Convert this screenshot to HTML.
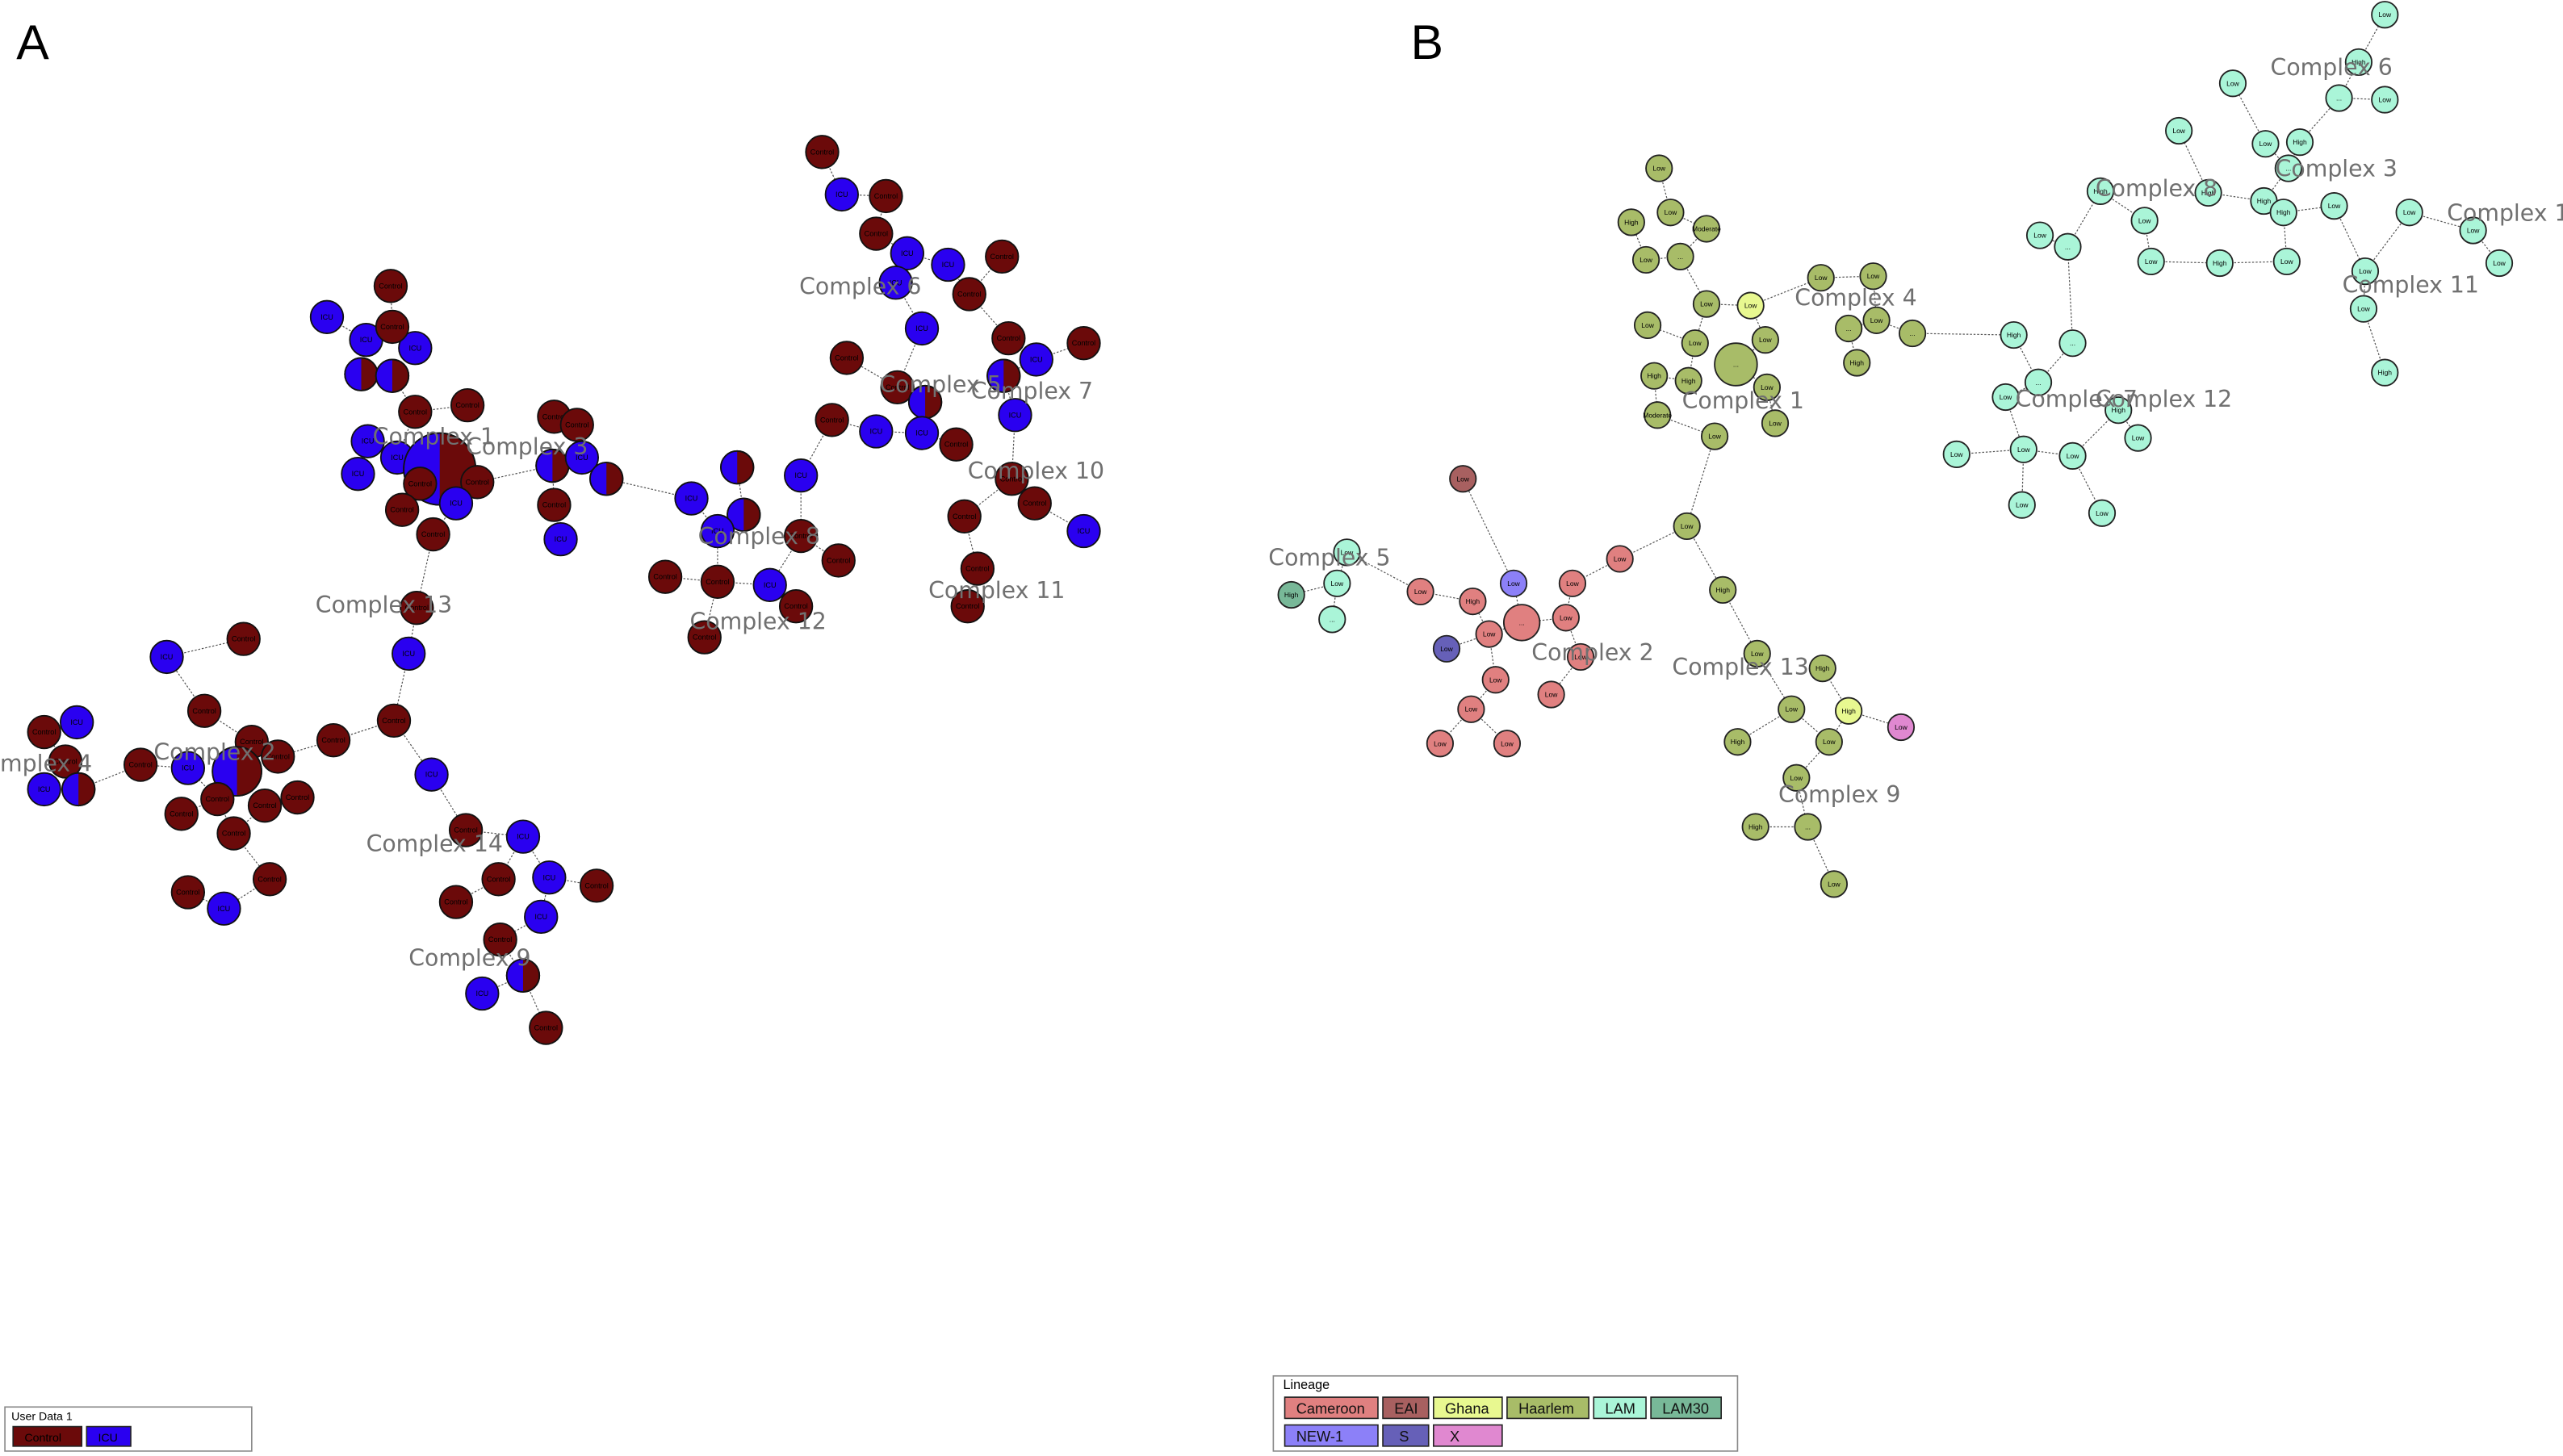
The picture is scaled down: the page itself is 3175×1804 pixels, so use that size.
<!DOCTYPE html>
<html><head><meta charset="utf-8"><style>
html,body{margin:0;padding:0;background:#fff;}
svg{display:block;font-family:"Liberation Sans","DejaVu Sans",sans-serif;}
</style></head><body>
<svg id="fig" width="3175" height="1804" viewBox="0 0 1568 891" preserveAspectRatio="none" xmlns="http://www.w3.org/2000/svg">
<rect width="1568" height="891" fill="#fff"/>
<text x="10" y="36" font-size="30">A</text>
<text x="863" y="36" font-size="30">B</text>
<g id="edges"></g><g id="nodes"></g><g id="labels"></g>
<g>
<rect x="3" y="861" width="151" height="27" fill="#fff" stroke="#888" stroke-width="0.8"/>
<text x="7" y="869" font-size="7">User Data 1</text>
<rect x="8" y="873" width="42" height="12" fill="#6b0a0a" stroke="#222" stroke-width="0.8"/>
<text x="15" y="882" font-size="7">Control</text>
<rect x="53" y="873" width="27" height="12" fill="#2a00f0" stroke="#222" stroke-width="0.8"/>
<text x="60" y="882" font-size="7">ICU</text>
</g>
<g id="legendB">
<rect x="779" y="842" width="284" height="46" fill="#fff" stroke="#888" stroke-width="0.8"/>
<text x="785" y="850" font-size="8">Lineage</text>
</g>
</svg>
<script>
const NS="http://www.w3.org/2000/svg";
const nodesA=[[503,93,'C'],[542,120,'C'],[515,119,'I'],[536,143,'C'],[555,155,'I'],[580,162,'I'],[613,157,'C'],[593,180,'C'],[548,173,'I'],[564,201,'I'],[518,219,'C'],[617,207,'C'],[663,210,'C'],[634,220,'I'],[614,230,'P'],[549,237,'C'],[566,246,'P'],[509,257,'C'],[536,264,'I'],[564,265,'I'],[585,272,'C'],[621,254,'I'],[590,316,'C'],[598,348,'C'],[633,308,'C'],[619,293,'C'],[663,325,'I'],[592,371,'C'],
[423,305,'I'],[451,286,'P'],[490,291,'I'],[455,315,'P'],[439,325,'I'],[490,328,'C'],[513,343,'C'],[407,353,'C'],[439,356,'C'],[471,358,'I'],[487,371,'C'],[431,390,'C'],
[239,175,'C'],[200,194,'I'],[224,208,'I'],[254,213,'I'],[240,200,'C'],[221,229,'P'],[240,230,'P'],[254,252,'C'],[286,248,'C'],[225,270,'I'],[219,290,'I'],[243,280,'I'],[269,287,'P',22],[257,296,'C'],[292,295,'C'],[246,312,'C'],[279,308,'I'],[265,327,'C'],
[339,255,'C'],[353,260,'C'],[338,285,'P'],[356,280,'I'],[371,293,'P'],[339,309,'C'],[343,330,'I'],
[255,372,'C'],[250,400,'I'],[241,441,'C'],[264,474,'I'],
[102,402,'I'],[149,391,'C'],[125,435,'C'],[154,454,'C'],[115,470,'I'],[145,472,'P',15],[86,468,'C'],[204,453,'C'],[170,463,'C'],[133,489,'C'],[162,493,'C'],[182,488,'C'],[111,498,'C'],[143,510,'C'],[165,538,'C'],[115,546,'C'],[137,556,'I'],
[27,448,'C'],[47,442,'I'],[40,466,'C'],[27,483,'I'],[48,483,'P'],
[285,508,'C'],[320,512,'I'],[305,538,'C'],[336,537,'I'],[365,542,'C'],[331,561,'I'],[279,552,'C'],[306,575,'C'],[320,597,'P'],[295,608,'I'],[334,629,'C']];
const nodesB=[[1015,103,'H','Low'],[1022,130,'H','Low'],[998,136,'H','High'],[1044,140,'H','Moderate'],[1007,159,'H','Low'],[1028,157,'H','...'],[1044,186,'H','Low'],[1071,187,'G','Low'],[1008,199,'H','Low'],[1037,210,'H','Low'],[1080,208,'H','Low'],[1062,223,'H','...',13],[1012,230,'H','High'],[1033,233,'H','High'],[1081,237,'H','Low'],[1014,254,'H','Moderate'],[1049,267,'H','Low'],[1086,259,'H','Low'],
[1114,170,'H','Low'],[1146,169,'H','Low'],[1131,201,'H','...'],[1148,196,'H','Low'],[1170,204,'H','...'],[1136,222,'H','High'],
[1232,205,'L','High'],[1268,210,'L','...'],[1247,234,'L','...'],[1227,243,'L','Low'],[1197,278,'L','Low'],[1238,275,'L','Low'],[1268,279,'L','Low'],[1237,309,'L','Low'],[1286,314,'L','Low'],[1296,251,'L','High'],[1308,268,'L','Low'],
[1248,144,'L','Low'],[1285,117,'L','High'],[1333,80,'L','Low'],[1312,135,'L','Low'],[1351,118,'L','High'],[1366,51,'L','Low'],[1386,88,'L','Low'],[1407,87,'L','High'],[1400,103,'L','...'],[1385,123,'L','High'],[1428,126,'L','Low'],[1397,130,'L','High'],[1459,9,'L','Low'],[1443,38,'L','High'],[1431,60,'L','...'],[1459,61,'L','Low'],[1316,160,'L','Low'],[1358,161,'L','High'],[1399,160,'L','Low'],[1265,151,'L','...'],[1474,130,'L','Low'],[1513,141,'L','Low'],[1529,161,'L','Low'],[1447,166,'L','Low'],[1446,189,'L','Low'],[1459,228,'L','High'],
[895,293,'E','Low'],[1032,322,'H','Low'],[991,342,'K','Low'],[962,357,'K','Low'],[926,357,'N','Low'],[869,362,'K','Low'],[901,368,'K','High'],[958,378,'K','Low'],[931,381,'K','...',11],[911,388,'K','Low'],[885,397,'S','Low'],[967,402,'K','Low'],[915,416,'K','Low'],[900,434,'K','Low'],[949,425,'K','Low'],[881,455,'K','Low'],[922,455,'K','Low'],
[824,338,'L','Low'],[818,357,'L','Low'],[790,364,'M','High'],[815,379,'L','...'],
[1054,361,'H','High'],[1075,400,'H','Low'],[1115,409,'H','High'],[1096,434,'H','Low'],[1131,435,'G','High'],[1163,445,'X','Low'],[1063,454,'H','High'],[1119,454,'H','Low'],[1099,476,'H','Low'],[1074,506,'H','High'],[1106,506,'H','...'],[1122,541,'H','Low']];
const complexA=[["Complex 6",489,180],["Complex 5",538,240],["Complex 7",594,244],["Complex 1",228,272],["Complex 3",285,278],["Complex 10",592,293],["Complex 8",427,333],["Complex 11",568,366],["Complex 13",193,375],["Complex 12",422,385],["Complex 2",94,465],["mplex 4",0,472],["Complex 14",224,521],["Complex 9",250,591]];
const complexB=[["Complex 6",1389,46],["Complex 3",1392,108],["Complex 8",1282,120],["Complex 10",1497,135],["Complex 11",1433,179],["Complex 4",1098,187],["Complex 1",1029,250],["Complex 7",1233,249],["Complex 12",1282,249],["Complex 5",776,346],["Complex 2",937,404],["Complex 13",1023,413],["Complex 9",1088,491]];
const legendNames=["Cameroon","EAI","Ghana","Haarlem","LAM","LAM30","NEW-1","S","X"];
const legendColors=["#e08080","#a86060","#e8f890","#a8bc68","#aaf5d8","#78b898","#8c80f8","#6660b8","#e088d0"];
const colA={C:"#6b0a0a",I:"#2a00f0"};
const colB={K:"#e08080",E:"#a86060",G:"#e8f890",H:"#a8bc68",L:"#aaf5d8",M:"#78b898",N:"#8c80f8",S:"#6660b8",X:"#e088d0"};
const E=document.getElementById('edges'),N=document.getElementById('nodes'),Lb=document.getElementById('labels');
function mk(t,a,p){const e=document.createElementNS(NS,t);for(const k in a)e.setAttribute(k,a[k]);p.appendChild(e);return e;}
function mst(nodes){const n=nodes.length,inT=new Array(n).fill(false),d=new Array(n).fill(1e9),par=new Array(n).fill(-1);d[0]=0;const out=[];
for(let it=0;it<n;it++){let u=-1;for(let i=0;i<n;i++)if(!inT[i]&&(u<0||d[i]<d[u]))u=i;inT[u]=true;if(par[u]>=0)out.push([par[u],u]);
for(let v=0;v<n;v++)if(!inT[v]){const dd=Math.hypot(nodes[u][0]-nodes[v][0],nodes[u][1]-nodes[v][1]);if(dd<d[v]){d[v]=dd;par[v]=u;}}}return out;}
function drawEdges(nodes){mst(nodes).forEach(([a,b])=>{const l=mk('line',{x1:nodes[a][0],y1:nodes[a][1],x2:nodes[b][0],y2:nodes[b][1],stroke:'#555','stroke-width':0.6,'stroke-dasharray':'1.2,1'},E);

});}
drawEdges(nodesA);drawEdges(nodesB);
nodesA.forEach(n=>{const r=n[3]||10;const g=mk('g',{},N);


if(n[2]==='P'){mk('circle',{cx:n[0],cy:n[1],r:r,fill:colA.C,stroke:'#111','stroke-width':0.9},g);
mk('path',{d:`M${n[0]},${n[1]} L${n[0]},${n[1]-r} A${r},${r} 0 0 0 ${n[0]},${n[1]+r} Z`,fill:colA.I},g);
mk('circle',{cx:n[0],cy:n[1],r:r,fill:'none',stroke:'#111','stroke-width':0.9},g);}
else{mk('circle',{cx:n[0],cy:n[1],r:r,fill:colA[n[2]],stroke:'#111','stroke-width':0.9},g);
const t=mk('text',{x:n[0],y:n[1]+1.5,'font-size':4.5,'text-anchor':'middle',fill:'#000'},g);t.textContent=n[2]==='I'?'ICU':'Control';}});
nodesB.forEach(n=>{const r=n[4]||8;const g=mk('g',{},N);


mk('circle',{cx:n[0],cy:n[1],r:r,fill:colB[n[2]],stroke:'#222','stroke-width':0.9},g);
const t=mk('text',{x:n[0],y:n[1]+1.5,'font-size':4.2,'text-anchor':'middle',fill:'#000'},g);t.textContent=n[3];});
complexA.concat(complexB).forEach(c=>{const t=mk('text',{x:c[1],y:c[2],'font-size':14,fill:'#707070','font-family':'DejaVu Sans, sans-serif'},Lb);


t.textContent=c[0];});
const LB=document.getElementById('legendB');
const lx=[786,846,877,922,975,1010,786,846,877],lw=[57,28,42,50,32,43,57,28,42];
legendNames.forEach((nm,i)=>{const y=i<6?855:872;
const r=mk('rect',{x:lx[i],y:y,width:lw[i],height:13,fill:legendColors[i],stroke:'#222','stroke-width':0.8},LB);


const t=mk('text',{x:lx[i]+(nm.length<3?10:7),y:y+10,'font-size':9,fill:'#111'},LB);t.textContent=nm;});
</script>
</body></html>
